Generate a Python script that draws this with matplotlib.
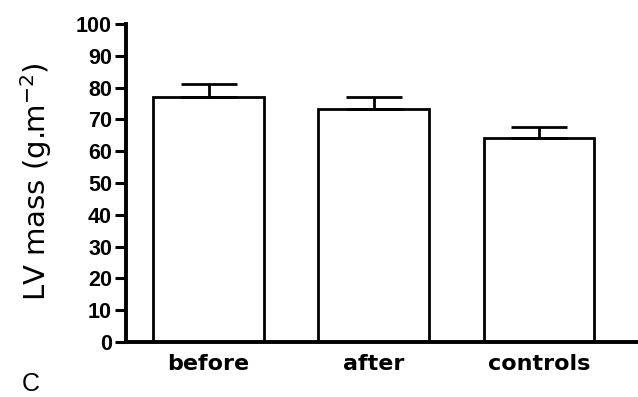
import matplotlib
matplotlib.use("Agg")
import matplotlib.pyplot as plt

categories = ["before", "after", "controls"]
means = [77.1, 73.2, 64.1]
sems = [3.9, 3.9, 3.5]
yticks = list(range(0, 101, 10))

fig = plt.figure(figsize=(6.38, 3.97), dpi=100)
ax = fig.add_axes([126/638, 1-342/397, 1-126/638, (342-24)/397])

x = list(range(len(categories)))
ax.bar(x, means, width=0.67, color="white", edgecolor="black", linewidth=2.0, zorder=2)
ax.errorbar(x, means, yerr=[[0]*len(sems), sems], fmt="none", ecolor="black",
            elinewidth=2.0, capsize=20.5, capthick=2.0, zorder=3)

ax.set_xlim(-0.5, 2.6)
ax.set_ylim(0, 100)
ax.set_yticks(yticks)
ax.set_yticklabels([str(t) for t in yticks], fontfamily="Liberation Sans",
                   fontweight="bold", fontsize=15.5)
ax.set_xticks(x)
ax.set_xticklabels(categories, fontfamily="DejaVu Sans", fontweight="bold", fontsize=16)
ax.tick_params(axis="y", length=8, width=2.2, pad=2, direction="out")
ax.tick_params(axis="x", length=0, pad=9)

for s in ["top", "right"]:
    ax.spines[s].set_visible(False)
for s in ["left", "bottom"]:
    ax.spines[s].set_linewidth(2.8)
ax.spines["left"].set_zorder(4)
ax.spines["bottom"].set_zorder(4)

fig.text(36/638, 1-182/397, r"LV mass (g.m$^{-2}$)", rotation=90, va="center", ha="center",
         fontfamily="DejaVu Sans", fontsize=21)
fig.text(22/638, 1-384/397, "C", va="center", ha="left", fontfamily="Liberation Sans", fontsize=18)

fig.savefig("out.png", dpi=100)
